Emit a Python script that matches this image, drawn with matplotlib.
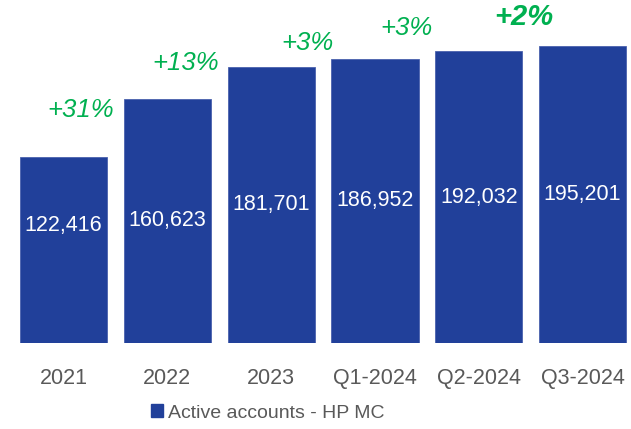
import matplotlib
matplotlib.use("Agg")
import matplotlib.pyplot as plt
from matplotlib.patches import Patch

# ---- data ----
categories = ["2021", "2022", "2023", "Q1-2024", "Q2-2024", "Q3-2024"]
active_accounts = [122416, 160623, 181701, 186952, 192032, 195201]
value_labels = ["122,416", "160,623", "181,701", "186,952", "192,032", "195,201"]
growth_labels = ["+31%", "+13%", "+3%", "+3%", "+2%"]

# ---- layout of annotations (positions, not data) ----
growth_x = [0.164, 1.18, 2.346, 3.30, 4.436]
growth_y = [153300, 184200, 197100, 207600, 214800]
growth_bold = [False, False, False, False, True]
label_frac = [0.634, 0.5, 0.5, 0.5, 0.5, 0.5]

BAR = "#21409A"
GREEN = "#00B050"
GREY = "#595959"
FONT = "Liberation Sans"

plt.rcParams["font.family"] = [FONT, "DejaVu Sans"]

fig = plt.figure(figsize=(6.31, 4.29), dpi=100)
ax = fig.add_axes([0, 86 / 429, 1, 343 / 429])

x = list(range(len(categories)))
ax.bar(x, active_accounts, width=0.84, color=BAR, edgecolor="#4A62AE",
       linewidth=0.6, label="Active accounts - HP MC")

for xi, v, lab, f in zip(x, active_accounts, value_labels, label_frac):
    ax.text(xi, v * f, lab, ha="center", va="center", color="white",
            fontsize=15.5)

for gx, gy, g, b in zip(growth_x, growth_y, growth_labels, growth_bold):
    ax.text(gx, gy, g, ha="center", va="center", color=GREEN,
            fontstyle="italic", fontweight="bold" if b else "normal",
            fontsize=21 if b else 18.5)

ax.set_xlim(-0.612, 5.467)
ax.set_ylim(0, 225700)
ax.set_xticks(x)
ax.set_xticklabels(categories, color=GREY, fontsize=15.5)
ax.tick_params(axis="x", length=0, pad=18)
ax.set_yticks([])
for s in ax.spines.values():
    s.set_visible(False)
ax.patch.set_alpha(0)

handle = Patch(facecolor=BAR, edgecolor=BAR)
fig.legend([handle], ["Active accounts - HP MC"], loc="center",
           bbox_to_anchor=(268 / 631, 16 / 429), frameon=False,
           handlelength=0.6, handleheight=0.6, handletextpad=0.25,
           fontsize=14, labelcolor=GREY, borderpad=0, borderaxespad=0)

fig.savefig("out.png", dpi=100)
